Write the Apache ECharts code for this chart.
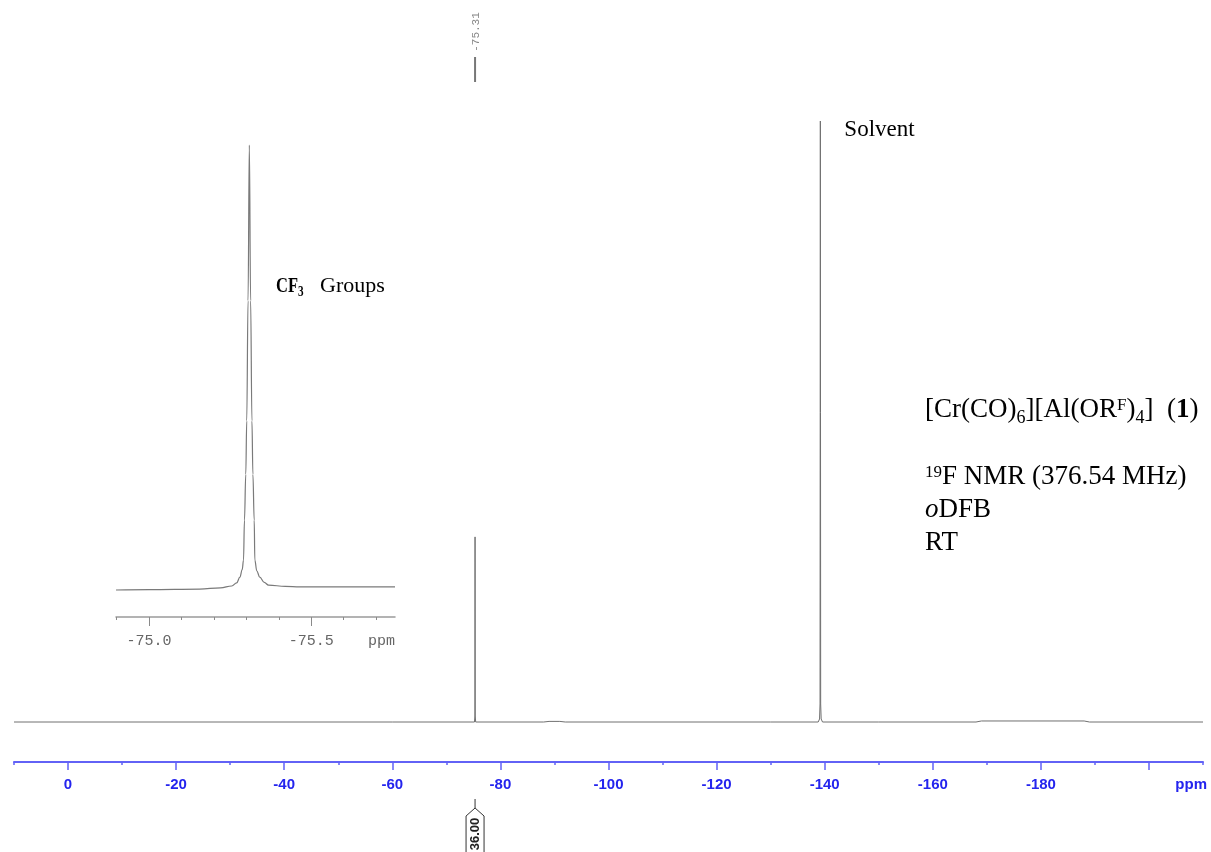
<!DOCTYPE html>
<html>
<head>
<meta charset="utf-8">
<script src="https://cdn.jsdelivr.net/npm/echarts@6/dist/echarts.min.js"></script>
<style>
  html, body { margin: 0; padding: 0; background: #fff; }
  #chart { width: 1211px; height: 852px; }
</style>
</head>
<body>
<div id="chart"></div>
<script>
// 19F NMR spectrum: chemical shift (ppm) and relative intensity
const spectrumPpm = [10, -60, -75.20, -75.28, -75.31, -75.34, -75.42, -88, -89, -91, -92,
  -130, -138.8, -139.05, -139.14, -139.20, -139.26, -139.35, -139.6, -150,
  -168, -169, -188, -189, -210];
const spectrumIntensity = [0, 0, 0, 1, 30.8, 1, 0, 0, 0.1, 0.1, 0,
  0, 0, 0.5, 3, 100, 3, 0.5, 0, 0,
  0, 0.17, 0.17, 0, 0];

// expansion of the CF3 resonance
const insetPpm = [-74.898, -75.000, -75.156, -75.220, -75.255, -75.270, -75.280, -75.287, -75.291,
  -75.294, -75.298, -75.301, -75.305, -75.309, -75.313, -75.317, -75.320, -75.324, -75.326,
  -75.332, -75.341, -75.355, -75.368, -75.420, -75.465, -75.758];
const insetIntensity = [0, 0.1, 0.2, 0.5, 0.9, 1.6, 2.9, 4.6, 6.7,
  15.7, 26, 38, 65, 100, 65, 38, 26, 15.7, 6.7,
  4.3, 2.9, 1.7, 1.1, 0.8, 0.7, 0.7];

// picked peak, integral and solvent signal
const pickedPeak = -75.31;
const pickedPeakLabel = '-75.31';
const integralLabel = '36.00';
const solventPeak = -139.2;

const serif = '"Liberation Serif", "Times New Roman", serif';
const mono = '"Liberation Mono", "Courier New", monospace';
const sans = '"Liberation Sans", Arial, sans-serif';
const blueText = '#2424ee';
const blueLine = '#6262f6';
const traceColor = '#707070';
const insetGray = '#666666';

const zip = (xs, ys) => xs.map((x, i) => [x, ys[i]]);

const chart = echarts.init(document.getElementById('chart'), null, { renderer: 'canvas' });

const hiddenY = (g) => ({ gridIndex: g, type: 'value', min: 0, max: 100, show: false });

const option = {
  animation: false,
  backgroundColor: '#ffffff',
  grid: [
    { left: 14, right: 8, top: 121, bottom: 130 },      // full spectrum, minor ticks
    { left: 68, right: 62, top: 121, bottom: 130 },     // full spectrum, labelled ticks
    { left: 116, right: 816, top: 145, bottom: 262 },   // expansion trace
    { left: 116.6, right: 834.9, top: 145, bottom: 262 },  // expansion minor ticks
    { left: 149.1, right: 899.7, top: 145, bottom: 262 }   // expansion labelled ticks
  ],
  xAxis: [
    {
      gridIndex: 0, type: 'value', inverse: true, min: -210, max: 10, interval: 10, offset: 40,
      axisLine: { onZero: false, lineStyle: { color: blueLine, width: 2 } },
      axisTick: { length: 3, lineStyle: { color: blueLine, width: 1.5 } },
      axisLabel: { show: false }, splitLine: { show: false }
    },
    {
      gridIndex: 1, type: 'value', inverse: true, min: -200, max: 0, interval: 20, offset: 40,
      axisLine: { show: false, onZero: false },
      axisTick: { length: 8, lineStyle: { color: blueLine, width: 1.5 } },
      axisLabel: {
        color: blueText, fontFamily: sans, fontWeight: 'bold', fontSize: 15, margin: 15,
        formatter: (v) => (v === -200 ? '' : String(v))
      },
      splitLine: { show: false }
    },
    {
      gridIndex: 2, type: 'value', inverse: true, min: -75.758, max: -74.898, offset: 27,
      axisLine: { onZero: false, lineStyle: { color: '#9a9a9a', width: 1.5 } },
      axisTick: { show: false }, axisLabel: { show: false }, splitLine: { show: false }
    },
    {
      gridIndex: 3, type: 'value', inverse: true, min: -75.7, max: -74.9, interval: 0.1, offset: 27,
      axisLine: { show: false, onZero: false },
      axisTick: { length: 3, lineStyle: { color: '#8a8a8a', width: 1 } },
      axisLabel: { show: false }, splitLine: { show: false }
    },
    {
      gridIndex: 4, type: 'value', inverse: true, min: -75.5, max: -75.0, interval: 0.5, offset: 27,
      axisLine: { show: false, onZero: false },
      axisTick: { length: 9, lineStyle: { color: '#8a8a8a', width: 1 } },
      axisLabel: {
        color: insetGray, fontFamily: mono, fontSize: 15, margin: 17,
        formatter: (v) => v.toFixed(1)
      },
      splitLine: { show: false }
    }
  ],
  yAxis: [hiddenY(0), hiddenY(1), hiddenY(2), hiddenY(3), hiddenY(4)],
  series: [
    {
      name: 'spectrum', type: 'line', xAxisIndex: 0, yAxisIndex: 0,
      data: zip(spectrumPpm, spectrumIntensity),
      showSymbol: false, clip: false, silent: true,
      lineStyle: { color: traceColor, width: 1 }
    },
    {
      name: 'expansion', type: 'line', xAxisIndex: 2, yAxisIndex: 2,
      data: zip(insetPpm, insetIntensity),
      showSymbol: false, clip: false, silent: true,
      smooth: 0.4, smoothMonotone: 'x',
      lineStyle: { color: '#7a7a7a', width: 1.2 }
    }
  ]
};

chart.setOption(option);

// annotations anchored to the axes
const peakX = chart.convertToPixel({ xAxisIndex: 0 }, pickedPeak);
const solventX = chart.convertToPixel({ xAxisIndex: 0 }, solventPeak);
const axisRightX = chart.convertToPixel({ xAxisIndex: 0 }, -210);
const insetRightX = chart.convertToPixel({ xAxisIndex: 2 }, -75.758);

const serifStyle = (size, extra) => Object.assign({ fontFamily: serif, fontSize: size, fill: '#000' }, extra || {});
const infoRich = {
  sub: serifStyle(18, { padding: [16, 0, 0, 0] }),
  sup: serifStyle(17, { padding: [0, 0, 9, 0] }),
  b: serifStyle(27, { fontWeight: 'bold' }),
  i: serifStyle(27, { fontStyle: 'italic' })
};
const infoLine = (text, y) => ({
  type: 'text', x: 925, y: y, silent: true,
  style: serifStyle(27, { text: text, rich: infoRich, align: 'left', verticalAlign: 'middle' })
});

chart.setOption({
  graphic: [
    // peak pick marker above the CF3 line
    { type: 'line', silent: true, shape: { x1: peakX, y1: 57, x2: peakX, y2: 82 },
      style: { stroke: '#777', lineWidth: 2 } },
    { type: 'text', x: peakX + 1, y: 32, rotation: Math.PI / 2, silent: true,
      style: { text: pickedPeakLabel, fontFamily: mono, fontSize: 11, fill: '#888',
        align: 'center', verticalAlign: 'middle' } },

    // integral marker below the axis
    { type: 'line', silent: true, shape: { x1: peakX, y1: 799, x2: peakX, y2: 808 },
      style: { stroke: '#333', lineWidth: 1 } },
    { type: 'polygon', silent: true,
      shape: { points: [[peakX - 9, 862], [peakX - 9, 816], [peakX, 808], [peakX + 9, 816], [peakX + 9, 862]] },
      style: { fill: '#fff', stroke: '#333', lineWidth: 1 } },
    { type: 'text', x: peakX, y: 834, rotation: Math.PI / 2, silent: true,
      style: { text: integralLabel, fontFamily: sans, fontWeight: 'bold', fontSize: 13, fill: '#222',
        align: 'center', verticalAlign: 'middle' } },

    // axis unit labels
    { type: 'text', x: axisRightX + 4, y: 785, silent: true,
      style: { text: 'ppm', fontFamily: sans, fontWeight: 'bold', fontSize: 15, fill: blueText,
        align: 'right', verticalAlign: 'middle' } },
    { type: 'text', x: insetRightX, y: 641, silent: true,
      style: { text: 'ppm', fontFamily: mono, fontSize: 15, fill: insetGray,
        align: 'right', verticalAlign: 'middle' } },

    // signal assignments
    { type: 'text', x: solventX + 24, y: 130, silent: true,
      style: serifStyle(23, { text: 'Solvent', align: 'left', verticalAlign: 'middle' }) },
    { type: 'text', x: 276, y: 286, scaleX: 0.75, silent: true,
      style: serifStyle(22, { text: '{b|CF}{bs|3}', align: 'left', verticalAlign: 'middle',
        rich: {
          b: serifStyle(22, { fontWeight: 'bold' }),
          bs: serifStyle(15, { fontWeight: 'bold', padding: [12, 0, 0, 0] })
        } }) },
    { type: 'text', x: 320, y: 286, silent: true,
      style: serifStyle(22, { text: 'Groups', align: 'left', verticalAlign: 'middle' }) },

    // sample information
    infoLine('[Cr(CO){sub|6}][Al(OR{sup|F}){sub|4}]  ({b|1})', 410),
    infoLine('{sup|19}F NMR (376.54 MHz)', 477),
    infoLine('{i|o}DFB', 510),
    infoLine('RT', 543)
  ]
});
</script>
</body>
</html>
